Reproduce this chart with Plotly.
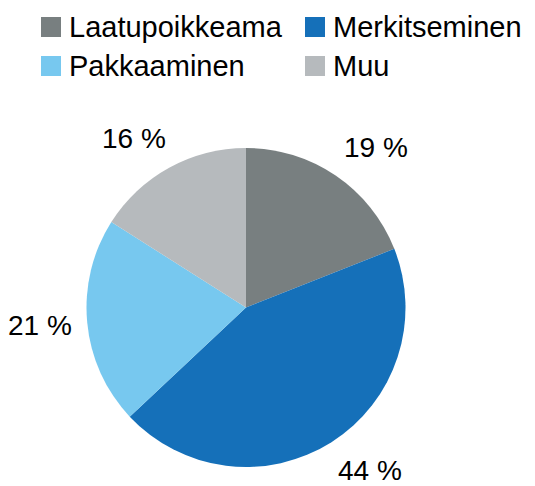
import math
import plotly.graph_objects as go

categories = ["Laatupoikkeama", "Merkitseminen", "Pakkaaminen", "Muu"]
values = [19, 44, 21, 16]
colors = ["#787f80", "#1570b9", "#77c8ef", "#b6babd"]

W, H = 535, 486
OFF = 8  # page body margin offset
FONT = "Liberation Sans, Arial, sans-serif"

# pie geometry (in pixels of the figure)
cx, cy, r = 246 - OFF, 307.5 - OFF, 159.5
# data labels sit on an ellipse around the pie (Excel-style outside end)
lab_rx, lab_ry = 232, 193
lab_fs = 28

fig = go.Figure()
fig.add_trace(go.Pie(
    labels=categories,
    values=values,
    sort=False,
    direction="clockwise",
    rotation=0,
    marker=dict(colors=colors, line=dict(width=0)),
    textinfo="none",
    showlegend=False,
    hoverinfo="label+value",
    domain=dict(x=[(cx - r) / W, (cx + r) / W], y=[1 - (cy + r) / H, 1 - (cy - r) / H]),
))

# percentage labels placed outside along each slice's mid-angle
total = sum(values)
cum = 0
for v in values:
    mid = (cum + v / 2) / total * 2 * math.pi
    cum += v
    txt = f"{v} %"
    hw = 0.57 * lab_fs * len(txt) / 2  # approx half text width
    px = cx + lab_rx * math.sin(mid)
    px = min(max(px, hw + 8 - OFF), W - OFF - 8 - hw)
    py = cy - lab_ry * math.cos(mid)
    fig.add_annotation(xref="paper", yref="paper", x=px / W, y=1 - py / H,
                       xanchor="center", yanchor="middle", showarrow=False,
                       text=txt,
                       font=dict(family=FONT, size=lab_fs, color="#000000"))

# Manual legend (2 x 2)
legend_pos = [(41, 17), (305, 17), (41, 56), (305, 56)]
for (x0, y0), name, col in zip(legend_pos, categories, colors):
    x0 -= OFF
    y0 -= OFF
    fig.add_shape(type="rect", xref="paper", yref="paper",
                  x0=x0 / W, x1=(x0 + 20) / W,
                  y0=1 - (y0 + 20) / H, y1=1 - y0 / H,
                  fillcolor=col, line=dict(width=0))
    fig.add_annotation(xref="paper", yref="paper",
                       x=(x0 + 26) / W, y=1 - (y0 + 10) / H,
                       xanchor="left", yanchor="middle",
                       text=name, showarrow=False,
                       font=dict(family=FONT, size=29, color="#000000"))

fig.update_layout(
    width=W, height=H,
    margin=dict(l=0, r=0, t=0, b=0),
    paper_bgcolor="white", plot_bgcolor="white",
)

fig.write_html("out.html")
